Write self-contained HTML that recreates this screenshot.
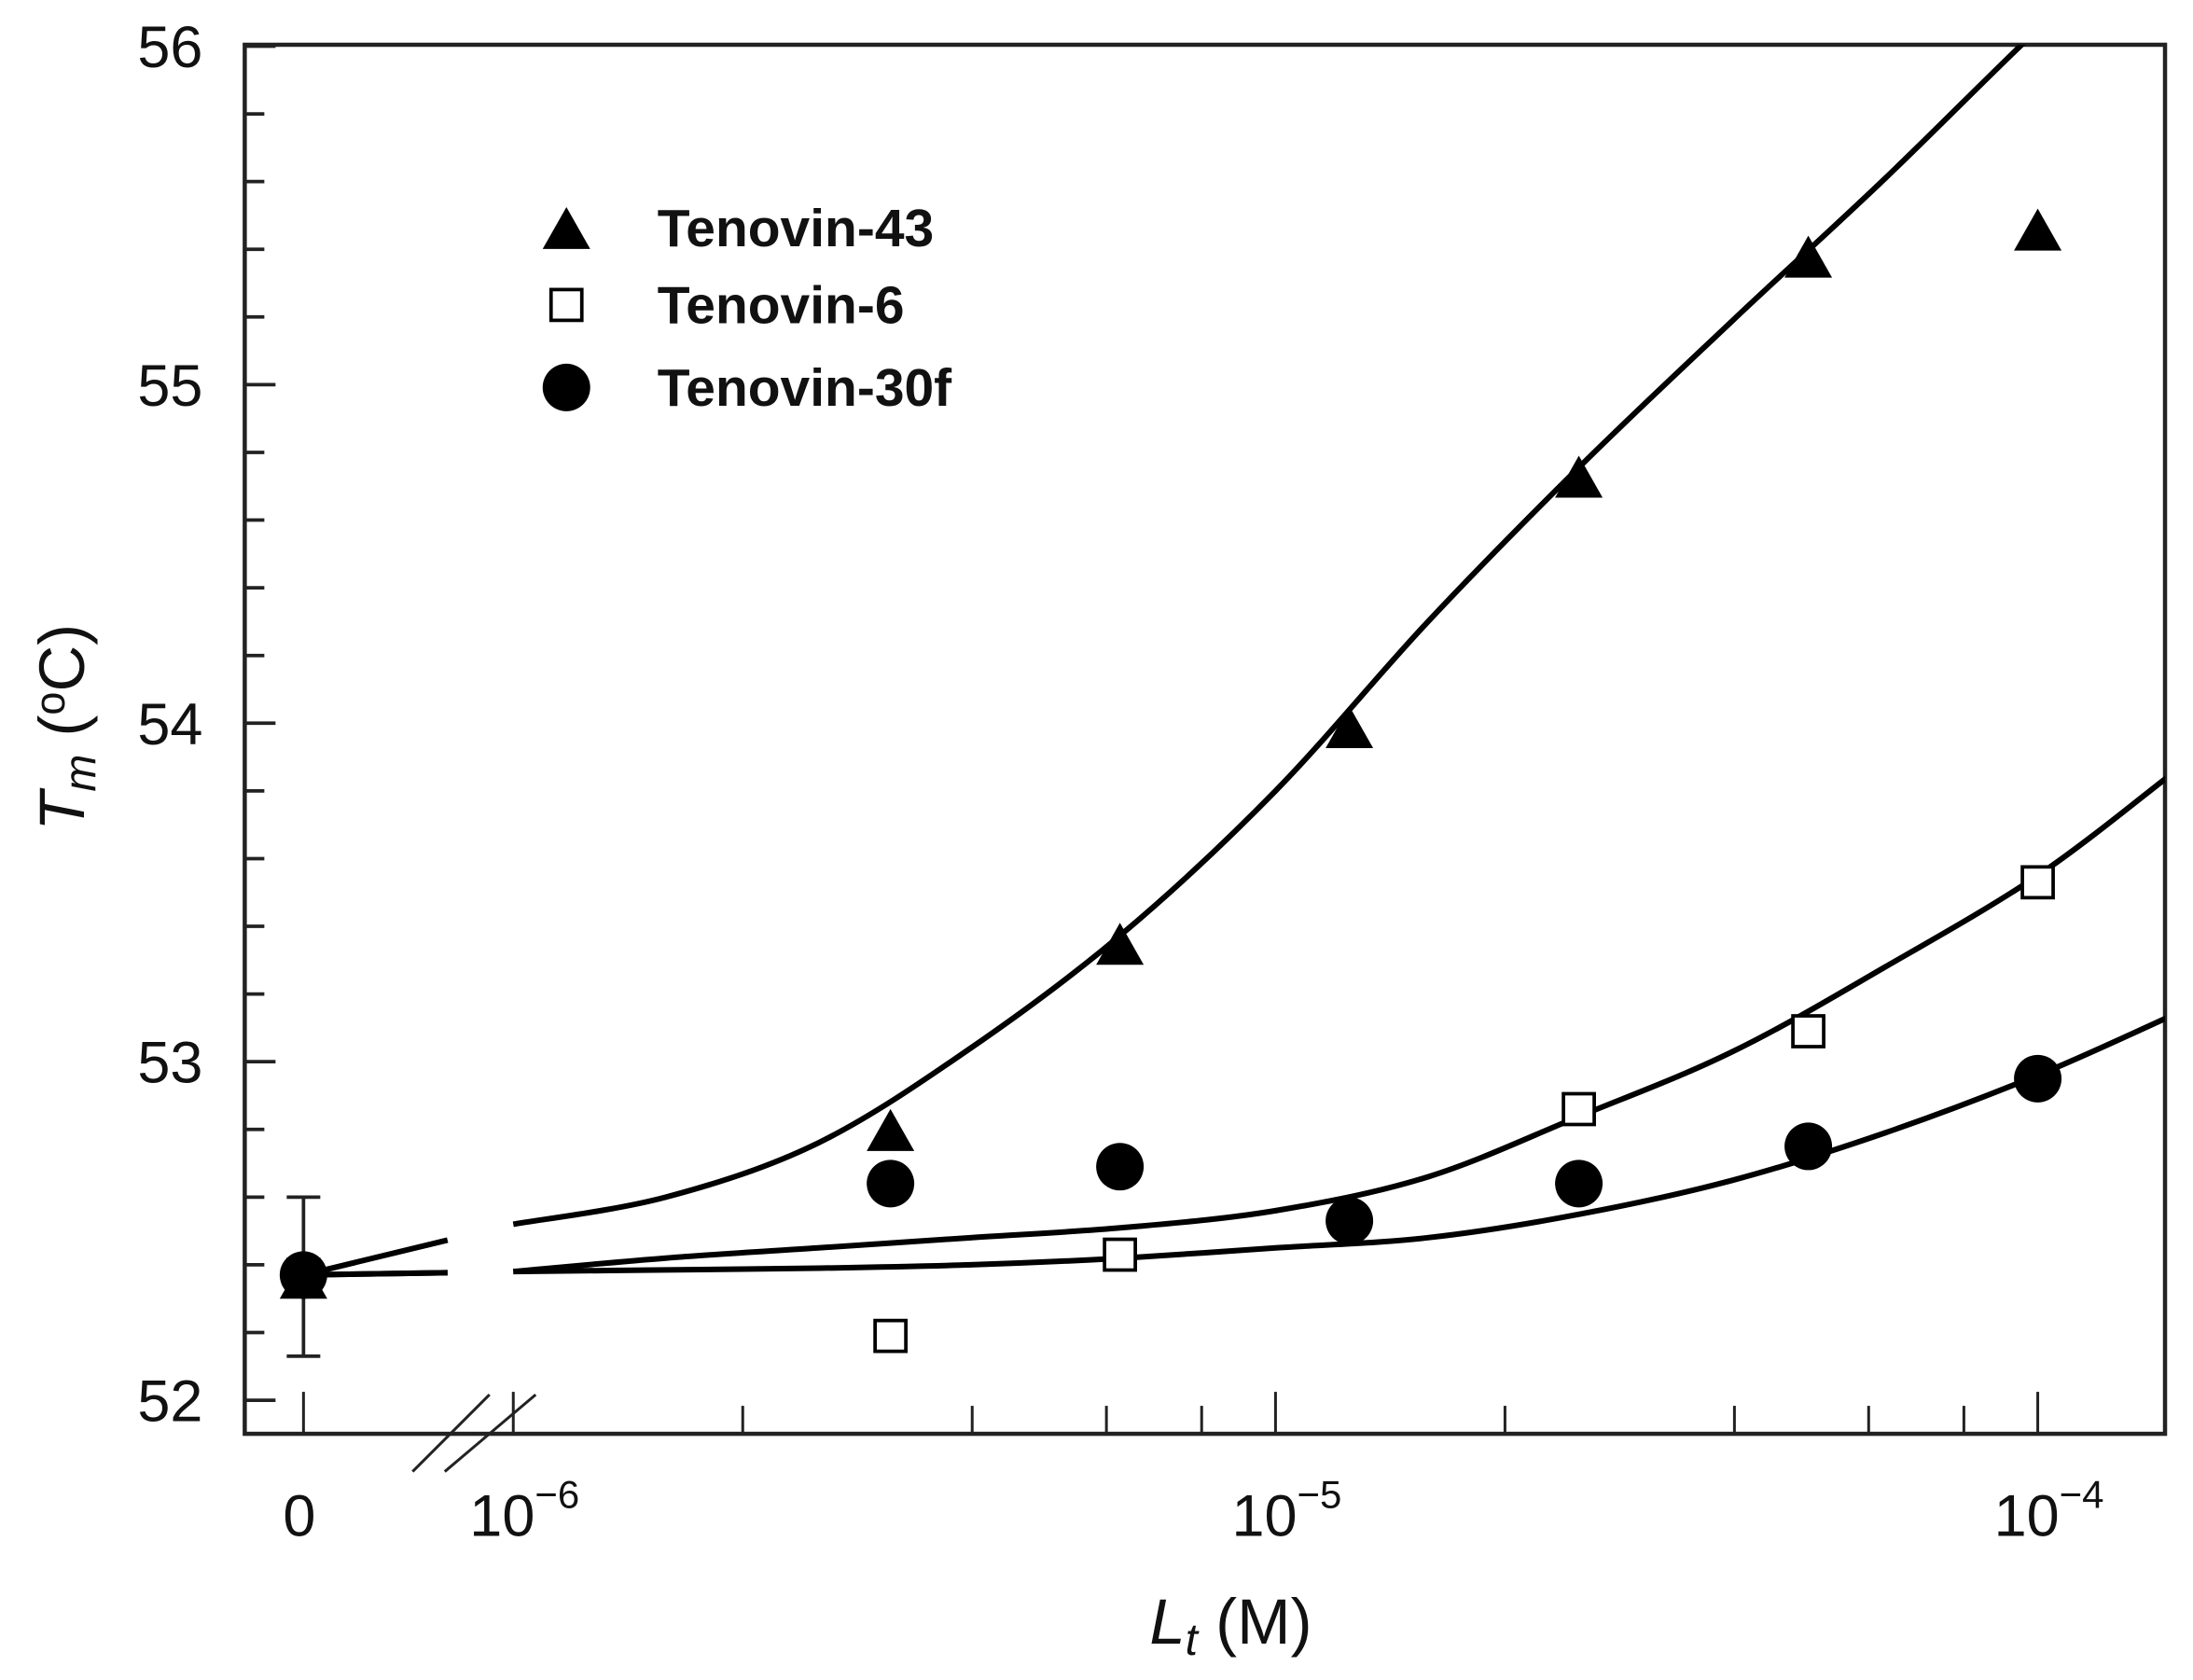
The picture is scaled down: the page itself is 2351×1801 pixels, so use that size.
<!DOCTYPE html>
<html><head><meta charset="utf-8"><style>
html,body{margin:0;padding:0;background:#fff;}
svg{display:block;}
text{font-family:"Liberation Sans Narrow","Liberation Sans",sans-serif;fill:#111;}
</style></head><body>
<svg id="chart" width="2351" height="1801" viewBox="0 0 1568 1201" preserveAspectRatio="none" xmlns="http://www.w3.org/2000/svg">
<g id="axes"></g>
<g id="fits"></g>
<g id="marks"></g>
<g id="legend"></g>
</svg>
<script>
const concs = [3.125e-6, 6.25e-6, 1.25e-5, 2.5e-5, 5e-5, 1e-4];
const zeroT = 52.37;
const t43 = [52.79, 53.34, 53.98, 54.72, 55.37, 55.45];
const t6 = [52.19, 52.43, null, 52.86, 53.09, 53.53];
const t30f = [52.64, 52.69, 52.53, 52.64, 52.75, 52.95];
const fitLogs = [-6, -5.8, -5.6, -5.4, -5.2, -5, -4.8, -4.6, -4.4, -4.2, -4, -3.83];
const fit43 = [52.52, 52.60, 52.76, 53.04, 53.38, 53.80, 54.30, 54.76, 55.19, 55.61, 56.05, 56.4];
const fit6 = [52.38, 52.42, 52.45, 52.48, 52.51, 52.56, 52.66, 52.84, 53.03, 53.28, 53.55, 53.84];
const fit30f = [52.38, 52.385, 52.39, 52.40, 52.42, 52.45, 52.48, 52.55, 52.65, 52.79, 52.96, 53.13];
const errLow = 52.13, errHigh = 52.60;
const yTicks = [52, 53, 54, 55, 56];
const xMajorLogs = [-6, -5, -4];
const xMajorLabels = ["6", "5", "4"];

const NS = "http://www.w3.org/2000/svg";
const L = 175, R = 1548, T = 32, B = 1025;
const X0 = 217;
function xLog(lg){ return 367 + (lg + 6) * 545; }
function xC(c){ return xLog(Math.log10(c)); }
function y(v){ return 1001 - (v - 52) * 242; }
function mk(tag, attrs, parent){ const e = document.createElementNS(NS, tag); for (const k in attrs) e.setAttribute(k, attrs[k]); parent.appendChild(e); return e; }
const axes = document.getElementById('axes');
const fits = document.getElementById('fits');
const marks = document.getElementById('marks');
const legend = document.getElementById('legend');

mk('defs', {}, document.getElementById('chart')).innerHTML = '<clipPath id="pc"><rect x="'+L+'" y="'+T+'" width="'+(R-L)+'" height="'+(B-T)+'"/></clipPath>';
fits.setAttribute('clip-path', 'url(#pc)');

let fr = mk('rect', {x:L, y:T, width:R-L, height:B-T, fill:'none', stroke:'#222', 'stroke-width':3}, axes);


for (let v = 52; v <= 56.001; v += 0.2) {
  const major = Math.abs(v - Math.round(v)) < 1e-6;
  const tk = mk('line', {x1:L, x2:L + (major ? 22 : 14), y1:y(v), y2:y(v), stroke:'#222', 'stroke-width':2.5}, axes);
  
  
}
yTicks.forEach(v => {
  const t = mk('text', {x:145, y:y(v) + 15, 'font-size':42, 'text-anchor':'end'}, axes);
  t.textContent = v;
  
  
});
function xtick(px, len){ const tk = mk('line', {x1:px, x2:px, y1:B, y2:B - len, stroke:'#222', 'stroke-width':2}, axes);
  
   }
xtick(X0, 30);
xMajorLogs.forEach(lg => xtick(xLog(lg), 30));
[-6, -5].forEach(d => [2, 4, 6, 8].forEach(m => xtick(xLog(d + Math.log10(m)), 20)));
[2, 4, 6].forEach(m => xtick(xLog(-4 + Math.log10(m)), 20));
[[295, 1052, 350, 997], [318, 1052, 383, 997]].forEach(b => {
  const l = mk('line', {x1:b[0], y1:b[1], x2:b[2], y2:b[3], stroke:'#222', 'stroke-width':2}, axes);
  
  
});
let z = mk('text', {x:X0 - 3, y:1098, 'font-size':42, 'text-anchor':'middle'}, axes);
z.textContent = '0';


xMajorLogs.forEach((lg, i) => {
  const t = mk('text', {x:xLog(lg) + 8, y:1098, 'font-size':42, 'text-anchor':'middle'}, axes);
  t.innerHTML = '10<tspan dy="-20" font-size="28">\u2212' + xMajorLabels[i] + '</tspan>';
  
  
});
let xl = mk('text', {x:880, y:1175, 'font-size':46, 'text-anchor':'middle'}, axes);
xl.innerHTML = '<tspan font-style="italic">L</tspan><tspan font-style="italic" font-size="32" dy="8">t</tspan><tspan dy="-8"> (M)</tspan>';


let yl = mk('text', {x:0, y:0, 'font-size':46, 'text-anchor':'middle', transform:'translate(60,520) rotate(-90)'}, axes);
yl.innerHTML = '<tspan font-style="italic">T</tspan><tspan font-style="italic" font-size="32" dy="8">m</tspan><tspan dy="-8"> (</tspan><tspan font-size="30" dy="-14">o</tspan><tspan dy="14">C)</tspan>';



function smoothPath(pts){
  let d = 'M' + pts[0][0].toFixed(1) + ' ' + pts[0][1].toFixed(1);
  for (let i = 0; i < pts.length - 1; i++) {
    const p0 = pts[Math.max(0, i - 1)], p1 = pts[i], p2 = pts[i + 1], p3 = pts[Math.min(pts.length - 1, i + 2)];
    const c1x = p1[0] + (p2[0] - p0[0]) / 6, c1y = p1[1] + (p2[1] - p0[1]) / 6;
    const c2x = p2[0] - (p3[0] - p1[0]) / 6, c2y = p2[1] - (p3[1] - p1[1]) / 6;
    d += ' C' + c1x.toFixed(1) + ' ' + c1y.toFixed(1) + ' ' + c2x.toFixed(1) + ' ' + c2y.toFixed(1) + ' ' + p2[0].toFixed(1) + ' ' + p2[1].toFixed(1);
  }
  return d;
}
function fitPath(vals, name){
  const pts = vals.map((v, i) => [xLog(fitLogs[i]), y(v)]);
  const p = mk('path', {d:smoothPath(pts), fill:'none', stroke:'#000', 'stroke-width':4}, fits);
  
  
  const x2 = 320, frac = (x2 - X0) / (xLog(fitLogs[0]) - X0);
  const y2 = y(zeroT + (vals[0] - zeroT) * frac);
  const s = mk('line', {x1:X0, y1:y(zeroT), x2:x2, y2:y2, stroke:'#000', 'stroke-width':4}, fits);
  
  
}
fitPath(fit43, 'fit-tenovin-43');
fitPath(fit6, 'fit-tenovin-6');
fitPath(fit30f, 'fit-tenovin-30f');

const eb = mk('path', {d:'M' + X0 + ' ' + y(errHigh) + ' V' + y(errLow) + ' M' + (X0 - 12) + ' ' + y(errHigh) + ' H' + (X0 + 12) + ' M' + (X0 - 12) + ' ' + y(errLow) + ' H' + (X0 + 12), stroke:'#222', 'stroke-width':2.5, fill:'none'}, marks);



function tri(cx, cy, parent){ return mk('path', {d:'M' + cx + ' ' + (cy - 17) + ' L' + (cx + 17) + ' ' + (cy + 13) + ' L' + (cx - 17) + ' ' + (cy + 13) + ' Z', fill:'#000'}, parent); }
function sq(cx, cy, parent){ return mk('rect', {x:cx - 11, y:cy - 11, width:22, height:22, fill:'#fff', stroke:'#000', 'stroke-width':2.5}, parent); }
function circ(cx, cy, parent){ return mk('circle', {cx:cx, cy:cy, r:17, fill:'#000'}, parent); }

let z1 = sq(X0, y(zeroT), marks);  
let z2 = circ(X0, y(zeroT), marks);  
let z3 = tri(X0, y(zeroT) + 4, marks);  
concs.forEach((c, i) => {
  const cx = xC(c);
  const a = tri(cx, y(t43[i]), marks);
  
  
  if (t6[i] !== null) { const b = sq(cx, y(t6[i]), marks);
    
     }
  const e = circ(cx, y(t30f[i]), marks);
  
  
});

const names = ['Tenovin-43', 'Tenovin-6', 'Tenovin-30f'];
const fns = [tri, sq, circ];
[163, 218, 277].forEach((ly, i) => {
  const g = mk('g', {}, legend);
  
  
  fns[i](405, ly + (i === 0 ? 2 : 0), g);
  const t = mk('text', {x:470, y:ly + 13, 'font-size':38, 'font-weight':'bold', 'font-family':'"Liberation Sans",sans-serif'}, g);
  t.textContent = names[i];
});
</script>
</body></html>
